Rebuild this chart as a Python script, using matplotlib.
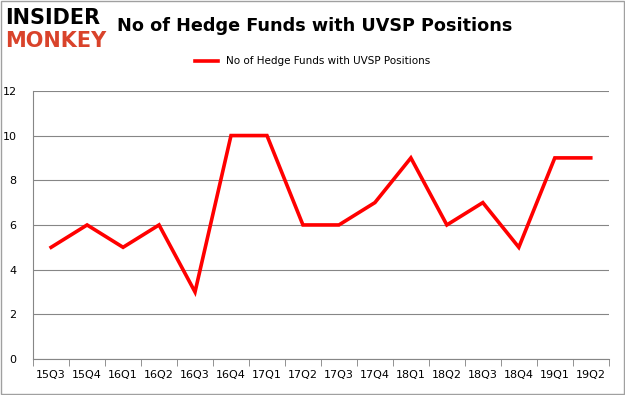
import matplotlib
matplotlib.use("Agg")
import matplotlib.pyplot as plt
from matplotlib.lines import Line2D
from matplotlib.patches import Rectangle

# === data ===
quarters = ["15Q3", "15Q4", "16Q1", "16Q2", "16Q3", "16Q4", "17Q1", "17Q2",
            "17Q3", "17Q4", "18Q1", "18Q2", "18Q3", "18Q4", "19Q1", "19Q2"]
hedge_funds = [5, 6, 5, 6, 3, 10, 10, 6, 6, 7, 9, 6, 7, 5, 9, 9]
series_label = "No of Hedge Funds with UVSP Positions"
y_ticks = [0, 2, 4, 6, 8, 10, 12]

fig = plt.figure(figsize=(6.25, 3.95), dpi=100)
ax = fig.add_axes([0.053, 0.091, 0.921, 0.679])

x = list(range(len(quarters)))
ax.plot(x, hedge_funds, color="#ff0000", linewidth=2.6, solid_joinstyle="miter")

ax.set_xlim(-0.5, len(quarters) - 0.5)
ax.set_ylim(0, 12)
ax.set_yticks(y_ticks)
ax.set_xticks(x)
ax.set_xticklabels(quarters)
ax.set_xticks([i - 0.5 for i in range(len(quarters) + 1)], minor=True)
ax.tick_params(axis="x", which="major", length=0, pad=8, labelsize=8)
ax.tick_params(axis="x", which="minor", length=5, color="#808080")
ax.tick_params(axis="y", length=0, pad=12, labelsize=8)
ax.grid(axis="y", color="#868686", linewidth=0.8)
ax.set_axisbelow(True)
for side in ["top", "right"]:
    ax.spines[side].set_visible(False)
ax.spines["left"].set_color("#868686")
ax.spines["bottom"].set_color("#868686")

# title and legend
fig.text(0.503, 0.935, "No of Hedge Funds with UVSP Positions", ha="center", va="center",
         fontsize=12.7, fontweight="bold")
fig.legend(handles=[Line2D([0], [0], color="#ff0000", linewidth=2.6)], labels=[series_label],
           loc="center", bbox_to_anchor=(0.5, 0.845), frameon=False, fontsize=7.5,
           handlelength=2.2)

# logo
fig.text(0.008, 0.955, "INSIDER", fontsize=15, fontweight="heavy", color="black",
         va="center", ha="left", family="DejaVu Sans")
fig.text(0.008, 0.895, "MONKEY", fontsize=15, fontweight="heavy", color="#d9432b",
         va="center", ha="left", family="DejaVu Sans")

# figure border
fig.patches.append(Rectangle((0.001, 0.002), 0.997, 0.995, transform=fig.transFigure,
                             fill=False, edgecolor="#a0a0a0", linewidth=1))

fig.savefig("out.png", dpi=100)
